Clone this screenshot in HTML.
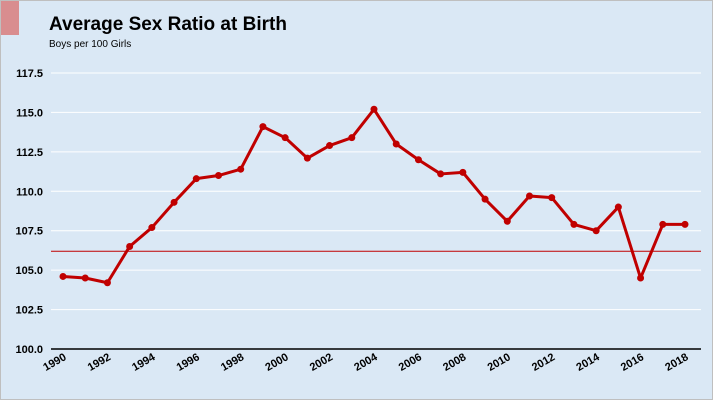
<!DOCTYPE html>
<html><head><meta charset="utf-8"><style>
body{margin:0;background:#fff}
#c{position:relative;width:711px;height:398px;border:1px solid #bfbfbf;background:#dae8f5;overflow:hidden;font-family:"Liberation Sans",Arial,sans-serif}
</style></head><body>
<div id="c">
<div style="position:absolute;left:0;top:0;width:18px;height:34px;background:#d98d8f"></div>
<div style="position:absolute;left:48px;top:13px;font-size:19px;font-weight:bold;color:#000">Average Sex Ratio at Birth</div>
<div style="position:absolute;left:48px;top:38px;font-size:10px;color:#000">Boys per 100 Girls</div>
<svg id="s" width="711" height="398" style="position:absolute;left:0;top:0"></svg>
</div>
<script>
const years=[1990,1991,1992,1993,1994,1995,1996,1997,1998,1999,2000,2001,2002,2003,2004,2005,2006,2007,2008,2009,2010,2011,2012,2013,2014,2015,2016,2017,2018];
const ratios=[104.6,104.5,104.2,106.5,107.7,109.3,110.8,111.0,111.4,114.1,113.4,112.1,112.9,113.4,115.2,113.0,112.0,111.1,111.2,109.5,108.1,109.7,109.6,107.9,107.5,109.0,104.5,107.9,107.9];
const yTicks=[100,102.5,105,107.5,110,112.5,115,117.5];
const xTickYears=[1990,1992,1994,1996,1998,2000,2002,2004,2006,2008,2010,2012,2014,2016,2018];
const refValue=106.2;
const NS="http://www.w3.org/2000/svg",s=document.getElementById('s');
const X0=62,X1=684,Y0=348,Y1=72;
const xs=y=>X0+(y-1990)*(X1-X0)/28;
const ys=v=>Y0-(v-100)*(Y0-Y1)/17.5;
function mk(t,a){const e=document.createElementNS(NS,t);for(const k in a)e.setAttribute(k,a[k]);s.appendChild(e);return e;}
yTicks.forEach(v=>{
 const l=mk('line',{x1:50,x2:700,y1:ys(v),y2:ys(v),stroke:v===100?'#000':'#fff','stroke-width':v===100?1.5:1});
 
 
 const t=mk('text',{x:42,y:ys(v)+4,'text-anchor':'end','font-size':11,'font-weight':'bold',fill:'#000'});
 t.textContent=v.toFixed(1);
 
 
});
xTickYears.forEach(y=>{
 const x=xs(y)+4,yy=358;
 const t=mk('text',{x:x,y:yy,'text-anchor':'end','font-size':11,'font-weight':'bold',fill:'#000',transform:`rotate(-30 ${x} ${yy})`});
 t.textContent=y;
 
 
});
const r=mk('line',{x1:50,x2:700,y1:ys(refValue),y2:ys(refValue),stroke:'#c00000','stroke-width':1});


const p=mk('polyline',{points:years.map((y,i)=>xs(y)+','+ys(ratios[i])).join(' '),fill:'none',stroke:'#c00000','stroke-width':3,'stroke-linejoin':'round'});


years.forEach((y,i)=>{
 const c=mk('circle',{cx:xs(y),cy:ys(ratios[i]),r:3.5,fill:'#c00000'});
 
 
});
</script>
</body></html>
